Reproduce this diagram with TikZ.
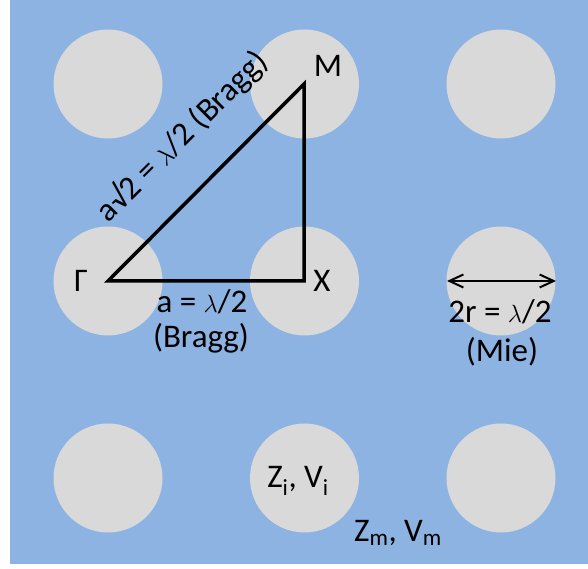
\documentclass[tikz,border=0pt]{standalone}
\usepackage{fontspec}
\setmainfont{Carlito}
\usetikzlibrary{arrows.meta}
\definecolor{bgblue}{RGB}{141,179,226}
\definecolor{rodgray}{RGB}{217,217,217}
\newcommand{\lam}{\ensuremath{\lambda}}
\begin{document}
\begin{tikzpicture}[x=1pt,y=1pt,
  rod/.style={circle,fill=rodgray,minimum size=109pt,inner sep=0pt},
  bigfont/.style={font=\fontsize{33}{39}\selectfont},
  lbl/.style={inner sep=0pt,anchor=base,bigfont},
  edge/.style={line width=3.5pt,black},
  dimarrow/.style={line width=2pt,{Straight Barb[length=14pt,width=13pt]}-{Straight Barb[length=14pt,width=13pt]}}]
\useasboundingbox (0,0) rectangle (588,569);
\fill[bgblue] (10,5) rectangle (588,569);
% rods
\node[rod] (r11) at (108,485) {};
\node[rod] (r12) at (304.5,485) {};
\node[rod] (r13) at (501,485) {};
\node[rod] (r21) at (108,288) {};
\node[rod] (r22) at (304.5,288) {};
\node[rod] (r23) at (501,288) {};
\node[rod] (r31) at (108,91) {};
\node[rod] (r32) at (304.5,91) {};
\node[rod] (r33) at (501,91) {};
% triangle vertices
\coordinate (G) at (108,288);
\coordinate (X) at (304,288);
\coordinate (M) at (304,485);
\draw[edge] (G) -- (X) -- (M) -- cycle;
% vertex labels
\node[lbl] (lG) at (81,277) {Γ};
\node[lbl] (lX) at (322,277) {X};
\node[lbl] (lM) at (328,492) {M};
% edge labels
\node[lbl] (la) at (202,256) {a = \lam/2};
\node[lbl] (lb) at (201,221) {(Bragg)};
\node[inner sep=0pt,rotate=45,bigfont] (ld) at (182,433) {a√2 = \lam/2 (Bragg)};
% Mie arrow
\coordinate (A1) at (447,288);
\coordinate (A2) at (556,288);
\draw[dimarrow] (A1) -- (A2);
\node[lbl] (lr) at (500,246) {2r = \lam/2};
\node[lbl] (lmie) at (502,207) {(Mie)};
% material labels
\node[lbl] (li) at (298,81) {Z\textsubscript{i}, V\textsubscript{i}};
\node[lbl] (lm) at (398,27) {Z\textsubscript{m}, V\textsubscript{m}};
\end{tikzpicture}
\end{document}
